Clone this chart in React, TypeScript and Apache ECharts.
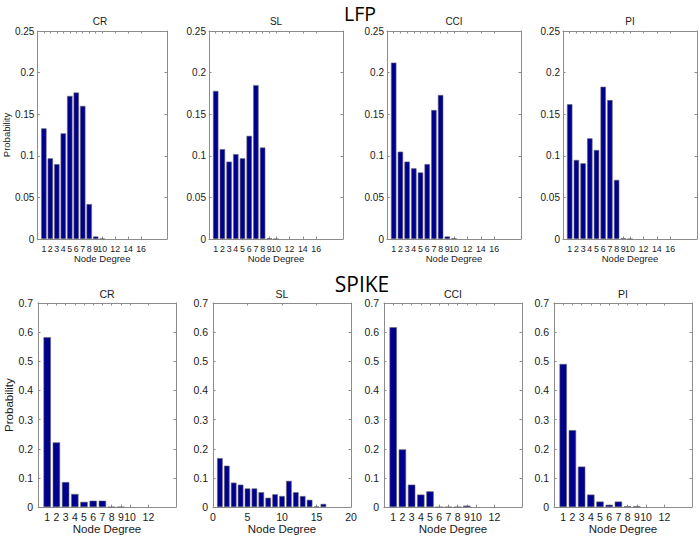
import React, { useEffect, useRef } from "react";
import * as echarts from "echarts";

// ---------- data ----------
const lfpDegrees = [1, 2, 3, 4, 5, 6, 7, 8, 9, 10];
const lfpCR = [0.133, 0.097, 0.090, 0.127, 0.172, 0.176, 0.160, 0.042, 0.003, 0.0005];
const lfpSL = [0.178, 0.108, 0.093, 0.102, 0.097, 0.124, 0.185, 0.110, 0.001, 0];
const lfpCCI = [0.212, 0.105, 0.093, 0.085, 0.080, 0.090, 0.155, 0.173, 0.003, 0.001];
const lfpPI = [0.162, 0.095, 0.091, 0.121, 0.107, 0.183, 0.167, 0.071, 0.001, 0];

const spikeDegrees = [1, 2, 3, 4, 5, 6, 7, 8, 9];
const spikeCR = [0.583, 0.222, 0.086, 0.045, 0.018, 0.022, 0.022, 0, 0];
const spikeCCI = [0.617, 0.198, 0.077, 0.043, 0.054, 0, 0, 0, 0.005];
const spikePI = [0.491, 0.264, 0.139, 0.043, 0.019, 0.008, 0.019, 0.003, 0.003];

const spikeSLDegrees = [1, 2, 3, 4, 5, 6, 7, 8, 9, 10, 11, 12, 13, 14, 15, 16];
const spikeSL = [0.168, 0.142, 0.084, 0.077, 0.064, 0.064, 0.051, 0.032, 0.044, 0.038, 0.090, 0.051, 0.038, 0.025, 0.002, 0.011];

const lfpTicks = [1, 2, 3, 4, 5, 6, 7, 8, 9, 10, 12, 14, 16];
const spikeTicks = [1, 2, 3, 4, 5, 6, 7, 8, 9, 10, 12];

const panelTitles = ["CR", "SL", "CCI", "PI"];
const rowTitles = ["LFP", "SPIKE"];

// ---------- layout / style ----------
const FONT = '"Liberation Sans", Arial, Helvetica, sans-serif';
const AXIS_COLOR = "#8c8c8c";
const BAR_COLOR = "#00008f";

type Panel = {
  title: string;
  degrees: number[];
  values: number[];
  left: number;
  top: number;
  width: number;
  height: number;
  xMax: number;
  xTicks: number[] | null;
  xInterval?: number;
  yMax: number;
  yInterval: number;
  barWidth: number;
  fontXTick: number;
  fontYTick: number;
  fontName: number;
  xNameGap: number;
  xLabelMargin: number;
  yLabelMargin: number;
  yName: boolean;
  yNameGap: number;
};

const topRow = { top: 31, height: 208, width: 134, lefts: [33, 209, 387, 563] };
const botRow = { top: 303, height: 205, width: 138, lefts: [38, 213, 384, 554] };

const lfpSets = [lfpCR, lfpSL, lfpCCI, lfpPI];
const spikeSets = [spikeCR, spikeSL, spikeCCI, spikePI];

const panels: Panel[] = [];
lfpSets.forEach((vals, i) => {
  panels.push({
    title: panelTitles[i],
    degrees: lfpDegrees,
    values: vals,
    left: topRow.lefts[i],
    top: topRow.top,
    width: topRow.width,
    height: topRow.height,
    xMax: 20,
    xTicks: lfpTicks,
    yMax: 0.25,
    yInterval: 0.05,
    barWidth: 5.4,
    fontXTick: 8.8,
    fontYTick: 10,
    fontName: 9.5,
    xNameGap: 13,
    xLabelMargin: 5,
    yLabelMargin: 3,
    yName: i === 0,
    yNameGap: 23,
  });
});
spikeSets.forEach((vals, i) => {
  const isSL = i === 1;
  panels.push({
    title: panelTitles[i],
    degrees: isSL ? spikeSLDegrees : spikeDegrees,
    values: vals,
    left: botRow.lefts[i],
    top: botRow.top,
    width: botRow.width,
    height: botRow.height,
    xMax: isSL ? 20 : 15,
    xTicks: isSL ? null : spikeTicks,
    xInterval: isSL ? 5 : undefined,
    yMax: 0.7,
    yInterval: 0.1,
    barWidth: isSL ? 5.6 : 7.4,
    fontXTick: 10.5,
    fontYTick: 10.5,
    fontName: 11.5,
    xNameGap: 13,
    xLabelMargin: 4,
    yLabelMargin: 5,
    yName: i === 0,
    yNameGap: 22,
  });
});

function buildOption() {
  const grid: any[] = [];
  const xAxis: any[] = [];
  const yAxis: any[] = [];
  const series: any[] = [];
  const graphic: any[] = [];

  panels.forEach((p, i) => {
    grid.push({ left: p.left, top: p.top, width: p.width, height: p.height, containLabel: false });

    const lineStyle = { color: AXIS_COLOR, width: 1 };
    const tickBase: any = { show: true, inside: true, length: 2.5, lineStyle };
    const xTick: any = { ...tickBase };
    const xLabel: any = {
      show: true,
      fontSize: p.fontXTick,
      fontFamily: FONT,
      color: "#1a1a1a",
      margin: p.xLabelMargin,
      hideOverlap: false,
    };
    if (p.xTicks) {
      xTick.customValues = p.xTicks;
      xLabel.customValues = p.xTicks;
    }

    // bottom x axis
    xAxis.push({
      gridIndex: i,
      type: "value",
      position: "bottom",
      min: 0,
      max: p.xMax,
      interval: p.xInterval,
      axisLine: { show: true, onZero: false, lineStyle },
      axisTick: xTick,
      axisLabel: xLabel,
      splitLine: { show: false },
      name: "Node Degree",
      nameLocation: "middle",
      nameGap: p.xNameGap,
      nameTextStyle: { fontSize: p.fontName, fontFamily: FONT, color: "#1a1a1a" },
    });
    // top x axis (box)
    xAxis.push({
      gridIndex: i,
      type: "value",
      position: "top",
      min: 0,
      max: p.xMax,
      interval: p.xInterval,
      axisLine: { show: true, onZero: false, lineStyle },
      axisTick: { ...xTick },
      axisLabel: { show: false, customValues: p.xTicks || undefined },
      splitLine: { show: false },
    });
    // left y axis
    yAxis.push({
      gridIndex: i,
      type: "value",
      position: "left",
      min: 0,
      max: p.yMax,
      interval: p.yInterval,
      axisLine: { show: true, onZero: false, lineStyle },
      axisTick: { ...tickBase },
      axisLabel: {
        show: true,
        fontSize: p.fontYTick,
        fontFamily: FONT,
        color: "#1a1a1a",
        margin: p.yLabelMargin,
      },
      splitLine: { show: false },
      name: p.yName ? "Probability" : "",
      nameLocation: "middle",
      nameGap: p.yNameGap,
      nameTextStyle: { fontSize: p.fontName, fontFamily: FONT, color: "#1a1a1a" },
    });
    // right y axis (box)
    yAxis.push({
      gridIndex: i,
      type: "value",
      position: "right",
      min: 0,
      max: p.yMax,
      interval: p.yInterval,
      axisLine: { show: true, onZero: false, lineStyle },
      axisTick: { ...tickBase },
      axisLabel: { show: false },
      splitLine: { show: false },
    });

    series.push({
      type: "bar",
      xAxisIndex: 2 * i,
      yAxisIndex: 2 * i,
      data: p.degrees.map((d, k) => [d, p.values[k]]),
      barWidth: p.barWidth,
      itemStyle: { color: BAR_COLOR, borderColor: "#6a6a6a", borderWidth: 0.6 },
      silent: true,
    });

    graphic.push({
      type: "text",
      x: p.left + p.width / 2,
      y: i < 4 ? 21 : 294,
      style: {
        text: p.title,
        fontSize: i < 4 ? 10 : 10.5,
        fontFamily: FONT,
        fill: "#1a1a1a",
        align: "center",
        verticalAlign: "middle",
      },
    });
  });

  graphic.push({
    type: "text",
    x: 360,
    y: 13,
    style: {
      text: rowTitles[0],
      fontSize: 19.5,
      lineHeight: 20,
      fontFamily: '"Open Sans", "Noto Sans", sans-serif',
      fill: "#000",
      align: "center",
      verticalAlign: "middle",
    },
  });
  graphic.push({
    type: "text",
    x: 362,
    y: 284,
    style: {
      text: rowTitles[1],
      fontSize: 21,
      lineHeight: 22,
      fontFamily: '"Open Sans", "Noto Sans", sans-serif',
      fill: "#000",
      align: "center",
      verticalAlign: "middle",
    },
  });

  return {
    animation: false,
    backgroundColor: "#ffffff",
    grid,
    xAxis,
    yAxis,
    series,
    graphic,
  };
}

export default function App() {
  const ref = useRef<HTMLDivElement>(null);
  useEffect(() => {
    if (!ref.current) return;
    const chart = echarts.init(ref.current, undefined, { renderer: "svg" });
    chart.setOption(buildOption() as any);
    return () => chart.dispose();
  }, []);
  return (
    <div
      ref={ref}
      style={{ width: 700, height: 536, position: "absolute", left: 0, top: 0 }}
    />
  );
}
